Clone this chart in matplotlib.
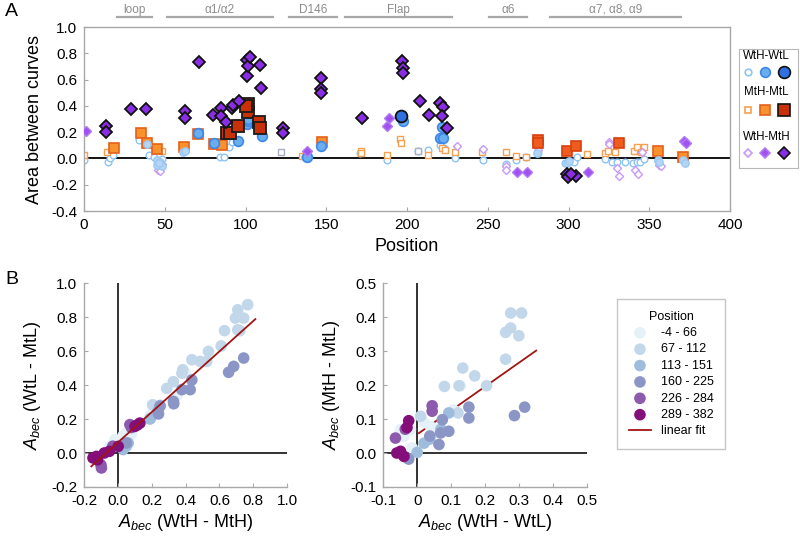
import numpy as np
import matplotlib
matplotlib.use("Agg")
import matplotlib.pyplot as plt
import matplotlib.transforms as mtransforms

plt.rcParams['font.family'] = ['Liberation Sans', 'DejaVu Sans']
plt.rcParams['mathtext.fontset'] = 'custom'
plt.rcParams['mathtext.rm'] = 'Liberation Sans'
plt.rcParams['mathtext.it'] = 'Liberation Sans:italic'

# ---------------- panel A: area between curves vs position ----------------
# WtH-WtL (circles)
circ_small_pos = [0, 15, 16, 18, 34, 40.4, 43.3, 48.6, 84.2, 86.7, 89.8, 91.4, 171, 187.8,
                  206.6, 212.8, 220.4, 222.9, 229.7, 247, 261, 267.3, 273.4, 281.3, 297.8,
                  303.6, 305, 322.6, 326.7, 329.8, 335, 340, 342.2, 344.3, 346.7, 355.6]
circ_small_val = [-0.015, -0.025, 0.006, 0.027, 0.14, 0.027, 0.014, -0.006, 0.014, 0.014, 0.085,
                  0.123, 0.044, -0.011, 0.06, 0.065, 0.10, 0.077, 0.0, -0.011, -0.04, -0.011,
                  0.014, 0.04, -0.037, -0.024, 0.014, -0.006, -0.024, -0.024, -0.024, -0.037,
                  -0.024, -0.024, -0.006, -0.02]
circ_light_pos = [38.8, 45.4, 47, 45.4, 48, 46.5, 61.5, 62.5, 137, 139, 280.3, 298.9, 300,
                  355.6, 356, 371, 372]
circ_light_val = [0.11, -0.011, -0.024, -0.05, -0.057, -0.035, 0.052, 0.06, 0.01, 0.015, 0.045,
                  -0.037, -0.02, -0.01, -0.025, -0.01, -0.037]
circ_med_pos = [70.4, 80.5, 95.6, 100.7, 101.5, 101.8, 109, 110, 137.8, 147, 197.5, 221.6,
                220.6, 222.3]
circ_med_val = [0.196, 0.115, 0.135, 0.263, 0.285, 0.298, 0.255, 0.171, 0.009, 0.098, 0.288,
                0.237, 0.156, 0.156]
circ_large_pos = [196.3]
circ_large_val = [0.325]

# MtH-MtL (squares)
sq_small_pos = [0, 14.3, 48.3, 134.9, 137.4, 171.3, 171.3, 187.4, 195.7, 196.3, 212.8, 221.4,
                223.5, 229.7, 246.2, 261, 267.2, 273.4, 311.2, 322.6, 324.6, 328.8, 340.7,
                342.2, 346.7, 344.9]
sq_small_val = [0.025, 0.048, 0.055, 0.018, 0.03, 0.06, 0.043, 0.025, 0.146, 0.116, 0.027,
                0.077, 0.065, 0.047, 0.047, 0.047, 0.021, 0.014, 0.032, 0.04, 0.057, 0.047,
                0.057, 0.09, 0.09, 0.047]
sq_grey_pos = [122, 206.6]
sq_grey_val = [0.05, 0.06]
sq_med_pos = [18.8, 35, 38.8, 45, 61.8, 70.8, 80.5, 85.3, 147.2, 355.6, 371]
sq_med_val = [0.078, 0.192, 0.12, 0.07, 0.088, 0.185, 0.11, 0.103, 0.125, 0.057, 0.014]
sq_red_pos = [280.9, 281, 299, 304.5, 331.2]
sq_red_val = [0.14, 0.115, 0.055, 0.092, 0.117]
sq_large_pos = [88.7, 90.4, 95.2, 101.3, 101.8, 100.6, 108.4, 109]
sq_large_val = [0.192, 0.192, 0.25, 0.35, 0.413, 0.40, 0.28, 0.23]

# WtH-MtH (diamonds)
dia_small_pos = [45.7, 47.2, 48.5, 230.7, 247, 261, 261.6, 280.9, 325, 325.3, 329.8, 331,
                 341, 342.8, 345.4, 356, 357.3]
dia_small_val = [-0.085, -0.093, -0.04, 0.097, 0.07, -0.057, -0.088, 0.065, 0.123, 0.11,
                 -0.075, -0.13, -0.087, -0.12, 0.05, -0.05, -0.06]
dia_med_pos = [1, 137.8, 187.8, 189, 268, 274, 311.8, 371.5, 372.7]
dia_med_val = [0.21, 0.06, 0.245, 0.305, -0.105, -0.105, -0.105, 0.13, 0.115]
dia_large_pos = [13.8, 13.8, 28.9, 38.6, 71, 62.8, 62.8, 80, 84.8, 84.8, 87.7, 91.4, 92.5, 96,
                 100.7, 101, 101.7, 102.8, 109, 109.6, 123, 123, 147, 147, 147, 172, 196.9,
                 197.5, 197.5, 207.8, 213.8, 220.6, 222.3, 221.6, 224.7, 298.9, 299.8, 304.4,
                 301.5]
dia_large_val = [0.25, 0.20, 0.375, 0.375, 0.73, 0.36, 0.31, 0.33, 0.38, 0.32, 0.28, 0.38,
                 0.407, 0.437, 0.75, 0.628, 0.704, 0.775, 0.71, 0.539, 0.23, 0.19, 0.615, 0.525,
                 0.50, 0.31, 0.74, 0.685, 0.65, 0.44, 0.33, 0.42, 0.39, 0.32, 0.23, -0.12,
                 -0.138, -0.13, -0.115]

region_names = ['loop', 'α1/α2', 'D146', 'Flap', 'α6', 'α7, α8, α9']
region_start = [20.4, 51.4, 127, 161.6, 251, 288.5]
region_end = [42, 117, 156.6, 228, 274, 369.6]

# ---------------- panel B: A_bec correlations ----------------
bin_labels = ['-4 - 66', '67 - 112', '113 - 151', '160 - 225', '226 - 284', '289 - 382']
bin_colors = ['#E4F2F8', '#C3D7EB', '#9EBCDB', '#8C96C6', '#8C5BAD', '#850F7A']

# left: x = A_bec(WtH - MtH), y = A_bec(WtL - MtL)
left_x_bin1 = [0.368, 0.229, 0.21, 0.051, -0.018, -0.048, 0.03, 0.08, 0.35, 0.40, 0.19, 0.0, -0.03]
left_y_bin1 = [0.37, 0.255, 0.27, 0.118, 0.078, 0.039, 0.10, 0.11, 0.34, 0.47, 0.22, 0.06, 0.05]
left_x_bin2 = [0.767, 0.708, 0.694, 0.743, 0.708, 0.72, 0.63, 0.61, 0.535, 0.486, 0.525, 0.437,
               0.383, 0.378, 0.328, 0.288, 0.205, 0.195]
left_y_bin2 = [0.873, 0.843, 0.794, 0.794, 0.725, 0.72, 0.72, 0.63, 0.598, 0.539, 0.539, 0.549,
               0.49, 0.47, 0.42, 0.38, 0.284, 0.206]
left_x_bin3 = [0.235, 0.249, 0.031, 0.061, 0.19, 0.05]
left_y_bin3 = [0.245, 0.28, 0.02, 0.059, 0.20, 0.04]
left_x_bin4 = [0.743, 0.684, 0.654, 0.437, 0.427, 0.378, 0.328, 0.33, 0.249, 0.24, 0.051]
left_y_bin4 = [0.559, 0.51, 0.475, 0.43, 0.373, 0.373, 0.304, 0.29, 0.275, 0.23, 0.059]
left_x_bin5 = [0.071, -0.097, -0.10, -0.03, 0.08]
left_y_bin5 = [0.167, -0.088, -0.07, 0.04, 0.15]
left_x_bin6 = [0.13, 0.101, 0.115, -0.127, -0.147, -0.12, -0.08, 0.002, -0.05]
left_y_bin6 = [0.176, 0.157, 0.165, -0.02, -0.029, -0.04, 0.0, 0.039, 0.01]

# right: x = A_bec(WtH - WtL), y = A_bec(MtH - MtL)
right_x_bin1 = [0.127, 0.106, 0.039, -0.02, -0.049, 0.049, -0.039, -0.015, 0.02, 0.06]
right_y_bin1 = [0.198, 0.127, 0.078, 0.069, 0.069, 0.059, 0.049, 0.015, 0.09, 0.07]
right_x_bin2 = [0.275, 0.307, 0.26, 0.275, 0.299, 0.26, 0.134, 0.169, 0.08, 0.123, 0.204, 0.01, 0.12]
right_y_bin2 = [0.412, 0.412, 0.355, 0.368, 0.345, 0.276, 0.25, 0.227, 0.196, 0.198, 0.198, 0.108, 0.118]
right_x_bin3 = [0.093, 0.037, 0.0, 0.02, 0.07]
right_y_bin3 = [0.118, 0.041, 0.002, 0.029, 0.07]
right_x_bin4 = [0.316, 0.286, 0.152, 0.152, 0.074, 0.093, 0.069, 0.064, -0.025, 0.037]
right_y_bin4 = [0.135, 0.11, 0.135, 0.103, 0.098, 0.064, 0.059, 0.025, -0.018, 0.05]
right_x_bin5 = [0.044, 0.044, -0.064, -0.035]
right_y_bin5 = [0.139, 0.123, 0.044, 0.07]
right_x_bin6 = [-0.025, -0.049, -0.039, -0.06, -0.03]
right_y_bin6 = [0.095, 0.005, -0.01, 0.0, 0.075]

# linear fits (slope, intercept, x range)
left_fit = (0.894, 0.062, -0.157, 0.812)
right_fit = (0.704, 0.055, 0.005, 0.35)

GREY = '#A8A8A8'

fig = plt.figure(figsize=(8.0, 5.38), dpi=100)


def style_axes(ax, box=False):
    for s in ['left', 'bottom', 'top', 'right']:
        ax.spines[s].set_color(GREY)
        ax.spines[s].set_linewidth(1.0)
    if not box:
        ax.spines['top'].set_visible(False)
        ax.spines['right'].set_visible(False)
    ax.tick_params(direction='in', length=3, color=GREY, labelsize=11, pad=5)


# ---- panel A
axA = fig.add_axes([0.105, 0.6078, 0.8075, 0.342])
style_axes(axA, box=True)
axA.axhline(0, color='black', lw=1.3, zorder=1)

mk = dict(linestyle='none')
axA.plot(circ_small_pos, circ_small_val, 'o', ms=4.8, mfc='white', mec='#8EC4F5', mew=1.0, zorder=2, **mk)
axA.plot(sq_small_pos, sq_small_val, 's', ms=4.8, mfc='white', mec='#F7A050', mew=1.0, zorder=2, **mk)
axA.plot(sq_grey_pos, sq_grey_val, 's', ms=4.8, mfc='white', mec='#A8B0C0', mew=1.0, zorder=2, **mk)
axA.plot(dia_small_pos, dia_small_val, 'D', ms=3.6, mfc='white', mec='#C89AF5', mew=1.0, zorder=2, **mk)
axA.plot(sq_med_pos, sq_med_val, 's', ms=7, mfc='#F7922F', mec='#E8601A', mew=1.2, zorder=3, **mk)
axA.plot(sq_red_pos, sq_red_val, 's', ms=7.5, mfc='#EE5C1E', mec='#D8400E', mew=1.2, zorder=3, **mk)
axA.plot(circ_light_pos, circ_light_val, 'o', ms=5.3, mfc='#B3D6F6', mec='#9CC8F2', mew=1.0, zorder=3, **mk)
axA.plot(circ_med_pos, circ_med_val, 'o', ms=7, mfc='#6AAEF0', mec='#3C88E8', mew=1.2, zorder=4, **mk)
axA.plot(dia_med_pos, dia_med_val, 'D', ms=5.2, mfc='#A052F0', mec='#B37AF5', mew=1.0, zorder=4, **mk)
axA.plot(sq_large_pos, sq_large_val, 's', ms=8.5, mfc='#C83008', mec='#1A1A1A', mew=1.3, zorder=5, **mk)
axA.plot(circ_large_pos, circ_large_val, 'o', ms=8.5, mfc='#2F6FE0', mec='#111111', mew=1.3, zorder=5, **mk)
axA.plot(dia_large_pos, dia_large_val, 'D', ms=6.4, mfc='#8A2EE6', mec='#111111', mew=1.3, zorder=6, **mk)

axA.set_xlim(0, 400)
axA.set_ylim(-0.4, 1.0)
axA.set_xticks(np.arange(0, 401, 50))
axA.set_yticks(np.arange(-0.4, 1.01, 0.2))
axA.set_yticklabels([f'{v:.1f}' for v in np.arange(-0.4, 1.01, 0.2)])
axA.set_xlabel('Position', fontsize=13, labelpad=4)
axA.set_ylabel('Area between curves', fontsize=13, labelpad=6)

trans = mtransforms.blended_transform_factory(axA.transData, axA.transAxes)
for name, a, b in zip(region_names, region_start, region_end):
    axA.plot([a, b], [1.054, 1.054], color=GREY, lw=1.6, transform=trans, clip_on=False)
    axA.text((a + b) / 2, 1.095, name, transform=trans, ha='center', va='center',
             fontsize=8.5, color='#8C8C8C')

# legend for panel A, drawn in its own little axes
axL = fig.add_axes([739 / 800, 1 - 168 / 538, 59 / 800, 119 / 538])
axL.set_xlim(0, 1)
axL.set_ylim(0, 1)
axL.set_xticks([])
axL.set_yticks([])
for s in axL.spines.values():
    s.set_color('#B8B8B8')
leg_x = [0.16, 0.44, 0.76]
rows = [
    ('WtH-WtL', 0.94, 0.81, 'o', [(4.8, 'white', '#8EC4F5'), (7, '#6AAEF0', '#3C88E8'), (8.5, '#2F6FE0', '#111111')]),
    ('MtH-MtL', 0.64, 0.49, 's', [(4.8, 'white', '#F7A050'), (7, '#F7922F', '#E8601A'), (8.5, '#C83008', '#111111')]),
    ('WtH-MtH', 0.26, 0.13, 'D', [(3.6, 'white', '#C89AF5'), (5.2, '#A052F0', '#B37AF5'), (6.4, '#8A2EE6', '#111111')]),
]
for title, ty, my, m, styles in rows:
    axL.text(0.47, ty, title, ha='center', va='center', fontsize=8.3)
    for xx, (ms, fc, ec) in zip(leg_x, styles):
        axL.plot([xx], [my], m, ms=ms, mfc=fc, mec=ec, mew=1.2, clip_on=False)

# ---- panel B
left_x = [left_x_bin1, left_x_bin2, left_x_bin3, left_x_bin4, left_x_bin5, left_x_bin6]
left_y = [left_y_bin1, left_y_bin2, left_y_bin3, left_y_bin4, left_y_bin5, left_y_bin6]
right_x = [right_x_bin1, right_x_bin2, right_x_bin3, right_x_bin4, right_x_bin5, right_x_bin6]
right_y = [right_y_bin1, right_y_bin2, right_y_bin3, right_y_bin4, right_y_bin5, right_y_bin6]

axB1 = fig.add_axes([0.105, 0.0948, 0.254, 0.379])
axB2 = fig.add_axes([0.479, 0.0948, 0.255, 0.379])

for ax, xs, ys, fit, lims, fit_z in [(axB1, left_x, left_y, left_fit, (-0.2, 1.0), 5),
                                      (axB2, right_x, right_y, right_fit, (-0.1, 0.5), 2.5)]:
    style_axes(ax)
    ax.axhline(0, color='#222222', lw=1.3, zorder=1)
    ax.axvline(0, color='#222222', lw=1.3, zorder=1)
    for i in range(6):
        ax.scatter(xs[i], ys[i], s=70, color=bin_colors[i], edgecolors='none',
                   zorder=3, label=bin_labels[i])
    slope, icpt, x0, x1 = fit
    fx = np.array([x0, x1])
    ax.plot(fx, slope * fx + icpt, color='#A01414', lw=1.3, zorder=fit_z, label='linear fit')
    ax.set_xlim(*lims)
    ax.set_ylim(*lims)

axB1.set_xticks(np.arange(-0.2, 1.01, 0.2))
axB1.set_xticklabels([f'{v:.1f}' for v in np.arange(-0.2, 1.01, 0.2)])
axB1.set_yticks(np.arange(-0.2, 1.01, 0.2))
axB1.set_yticklabels([f'{v:.1f}' for v in np.arange(-0.2, 1.01, 0.2)])
axB1.set_xlabel(r'$A_{bec}$ (WtH - MtH)', fontsize=13, labelpad=3)
axB1.set_ylabel(r'$A_{bec}$ (WtL - MtL)', fontsize=13, labelpad=6)

xt2 = np.arange(-0.1, 0.51, 0.1)
axB2.set_xticks(xt2)
axB2.set_xticklabels(['0' if abs(v) < 1e-9 else f'{v:.1f}' for v in xt2])
axB2.set_yticks(xt2)
axB2.set_yticklabels([f'{abs(v):.1f}' if abs(v) < 1e-9 else f'{v:.1f}' for v in xt2])
axB2.set_xlabel(r'$A_{bec}$ (WtH - WtL)', fontsize=13, labelpad=3)
axB2.set_ylabel(r'$A_{bec}$ (MtH - MtL)', fontsize=13, labelpad=6)

handles, labels = axB1.get_legend_handles_labels()
leg = fig.legend(handles, labels, title='Position', loc='upper left',
                 bbox_to_anchor=(0.764, 0.455), fontsize=9, title_fontsize=9,
                 frameon=True, fancybox=False, edgecolor='#B8B8B8',
                 handlelength=1.8, handletextpad=0.8, labelspacing=0.35,
                 borderpad=0.9, markerscale=1.0)

fig.text(5 / 800, 1 - 12 / 538, 'A', fontsize=14, va='center')
fig.text(5 / 800, 1 - 280 / 538, 'B', fontsize=14, va='center')

fig.savefig('out.png', dpi=100)
